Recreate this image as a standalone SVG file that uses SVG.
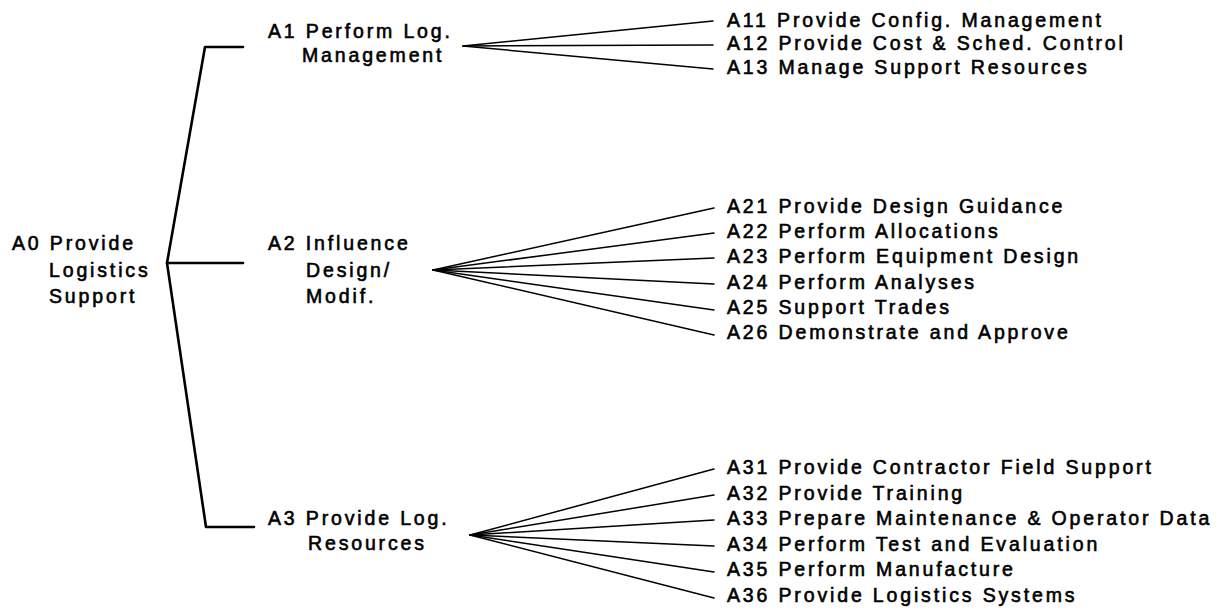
<svg xmlns="http://www.w3.org/2000/svg" width="1219" height="616" viewBox="0 0 1219 616">
  <style>
    text { font-family: "Liberation Sans", Arial, sans-serif; font-size: 19.5px; letter-spacing: 2.85px; fill: #000; stroke: #000; stroke-width: 0.6; }
    .tree { fill: none; stroke: #000; stroke-width: 2.6; stroke-linejoin: round; stroke-linecap: round; }
    .fan { fill: none; stroke: #000; stroke-width: 1.5; stroke-linecap: round; }
  </style>
  <rect width="1219" height="616" fill="#fff"/>

  <!-- connectors -->
  <g id="connectors">
    <!-- A0 bracket to A1, A2, A3 -->
    <path class="tree" d="M243 47 L205 47 L167 263 L206 527 L254 527"/>
    <path class="tree" d="M167 263 L243 263"/>
    <!-- A1 fan -->
    <g class="fan">
      <line x1="463" y1="46" x2="713" y2="21"/>
      <line x1="463" y1="46" x2="713" y2="45"/>
      <line x1="463" y1="46" x2="713" y2="69"/>
    </g>
    <!-- A2 fan -->
    <g class="fan">
      <line x1="433" y1="270" x2="714" y2="208"/>
      <line x1="433" y1="270" x2="714" y2="233"/>
      <line x1="433" y1="270" x2="714" y2="258"/>
      <line x1="433" y1="270" x2="714" y2="284"/>
      <line x1="433" y1="270" x2="714" y2="310"/>
      <line x1="433" y1="270" x2="714" y2="335"/>
    </g>
    <!-- A3 fan -->
    <g class="fan">
      <line x1="470" y1="535" x2="714" y2="469"/>
      <line x1="470" y1="535" x2="714" y2="495"/>
      <line x1="470" y1="535" x2="714" y2="520"/>
      <line x1="470" y1="535" x2="714" y2="546"/>
      <line x1="470" y1="535" x2="714" y2="572"/>
      <line x1="470" y1="535" x2="714" y2="598"/>
    </g>
  </g>

  <g id="A0">
    <text x="12" y="250">A0 Provide</text>
    <text x="49" y="277">Logistics</text>
    <text x="49" y="303">Support</text>
  </g>

  <g id="A1">
    <text x="268" y="38">A1 Perform Log.</text>
    <text x="302" y="62">Management</text>
  </g>
  <g id="A2">
    <text x="268" y="250">A2 Influence</text>
    <text x="306" y="277">Design/</text>
    <text x="306" y="303">Modif.</text>
  </g>
  <g id="A3">
    <text x="268" y="525">A3 Provide Log.</text>
    <text x="308" y="550">Resources</text>
  </g>

  <g id="A11"><text x="727" y="27">A11 Provide Config. Management</text></g>
  <g id="A12"><text x="727" y="50">A12 Provide Cost &amp; Sched. Control</text></g>
  <g id="A13"><text x="727" y="74">A13 Manage Support Resources</text></g>

  <g id="A21"><text x="727" y="213">A21 Provide Design Guidance</text></g>
  <g id="A22"><text x="727" y="238">A22 Perform Allocations</text></g>
  <g id="A23"><text x="727" y="263">A23 Perform Equipment Design</text></g>
  <g id="A24"><text x="727" y="289">A24 Perform Analyses</text></g>
  <g id="A25"><text x="727" y="314">A25 Support Trades</text></g>
  <g id="A26"><text x="727" y="339">A26 Demonstrate and Approve</text></g>

  <g id="A31"><text x="727" y="474">A31 Provide Contractor Field Support</text></g>
  <g id="A32"><text x="727" y="500">A32 Provide Training</text></g>
  <g id="A33"><text x="727" y="525">A33 Prepare Maintenance &amp; Operator Data</text></g>
  <g id="A34"><text x="727" y="551">A34 Perform Test and Evaluation</text></g>
  <g id="A35"><text x="727" y="576">A35 Perform Manufacture</text></g>
  <g id="A36"><text x="727" y="602">A36 Provide Logistics Systems</text></g>
</svg>
